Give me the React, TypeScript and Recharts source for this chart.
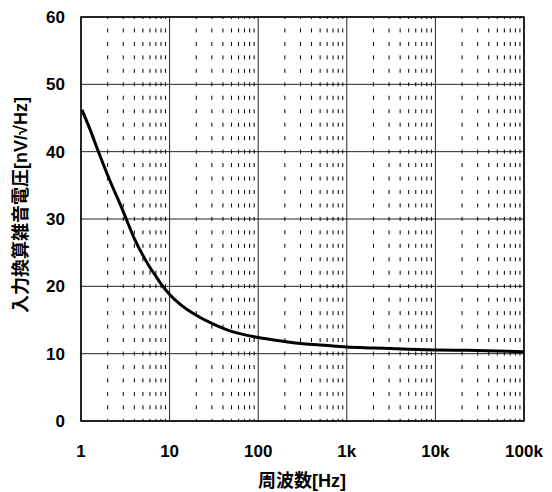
import React from "react"
import {
  ComposedChart,
  Line,
  XAxis,
  YAxis,
  CartesianGrid,
  ReferenceLine,
  ReferenceArea,
  Label,
} from "recharts"

// frequency [Hz] and input-referred noise [nV/√Hz]
const freqs = [1.026, 1.3, 1.55, 2, 3, 4, 5, 6, 7, 8, 10, 13, 20, 30, 50, 100, 200, 300, 500, 1000, 2000, 5000, 10000, 20000, 50000, 100000]
const noise = [46.2, 42.9, 40.2, 36.5, 31.1, 27.1, 24.6, 22.8, 21.5, 20.35, 18.8, 17.4, 15.7, 14.5, 13.3, 12.4, 11.8, 11.5, 11.3, 11.0, 10.85, 10.65, 10.55, 10.5, 10.4, 10.3]

const xTicks = [1, 10, 100, 1000, 10000, 100000]
const xTickLabels = ["1", "10", "100", "1k", "10k", "100k"]
const yTicks = [0, 10, 20, 30, 40, 50, 60]

const decades = [1, 10, 100, 1000, 10000]
const minorSteps = [2, 3, 4, 5, 6, 7, 8, 9]
const minorLines = decades.flatMap((d) => minorSteps.map((m) => d * m))

const data = freqs.map((f, i) => ({ f, v: noise[i] }))

const font = "'Liberation Sans', Arial, 'Noto Sans CJK JP', sans-serif"

export default function App() {
  return (
    <div style={{ position: "absolute", left: 0, top: 0, background: "#fff" }}>
      <ComposedChart
        width={552}
        height={492}
        data={data}
        margin={{ top: 17, right: 28, bottom: 11, left: 0 }}
      >
        <CartesianGrid stroke="#222" strokeWidth={1} />
        {minorLines.map((m) => (
          <ReferenceLine
            key={m}
            segment={[
              { x: m, y: 60 },
              { x: m, y: 0 },
            ]}
            stroke="#000"
            strokeWidth={1}
            strokeDasharray="4 9.46"
            strokeDashoffset={2}
          />
        ))}
        <XAxis
          dataKey="f"
          type="number"
          scale="log"
          domain={[1, 100000]}
          ticks={xTicks}
          allowDataOverflow
          tickFormatter={(v: number) => xTickLabels[xTicks.indexOf(v)] ?? String(v)}
          tickLine={false}
          axisLine={false}
          tickSize={0}
          tickMargin={24}
          height={60}
          tick={{ fill: "#000", fontSize: 17, fontWeight: "bold", fontFamily: font }}
          interval={0}
        >
          <Label
            content={() => (
              <text
                x={302}
                y={481}
                textAnchor="middle"
                dominantBaseline="central"
                fill="#000"
                fontSize={18}
                fontWeight="bold"
                fontFamily={font}
              >
                周波数[Hz]
              </text>
            )}
          />
        </XAxis>
        <YAxis
          type="number"
          domain={[0, 60]}
          ticks={yTicks}
          width={81}
          tickLine={false}
          axisLine={false}
          tickSize={0}
          tickMargin={16}
          interval={0}
          tick={{ fill: "#000", fontSize: 17, fontWeight: "bold", fontFamily: font }}
        >
          <Label
            content={() => (
              <text
                x={21}
                y={205}
                transform="rotate(-90 21 205)"
                textAnchor="middle"
                dominantBaseline="central"
                fill="#000"
                fontSize={18}
                fontWeight="bold"
                fontFamily={font}
              >
                入力換算雑音電圧[nV/√Hz]
              </text>
            )}
          />
        </YAxis>
        <ReferenceArea
          x1={1}
          x2={100000}
          y1={0}
          y2={60}
          fill="none"
          stroke="#000"
          strokeWidth={1.5}
          ifOverflow="visible"
        />
        <Line
          dataKey="v"
          type="monotone"
          stroke="#000"
          strokeWidth={3}
          dot={false}
          isAnimationActive={false}
        />
      </ComposedChart>
    </div>
  )
}
